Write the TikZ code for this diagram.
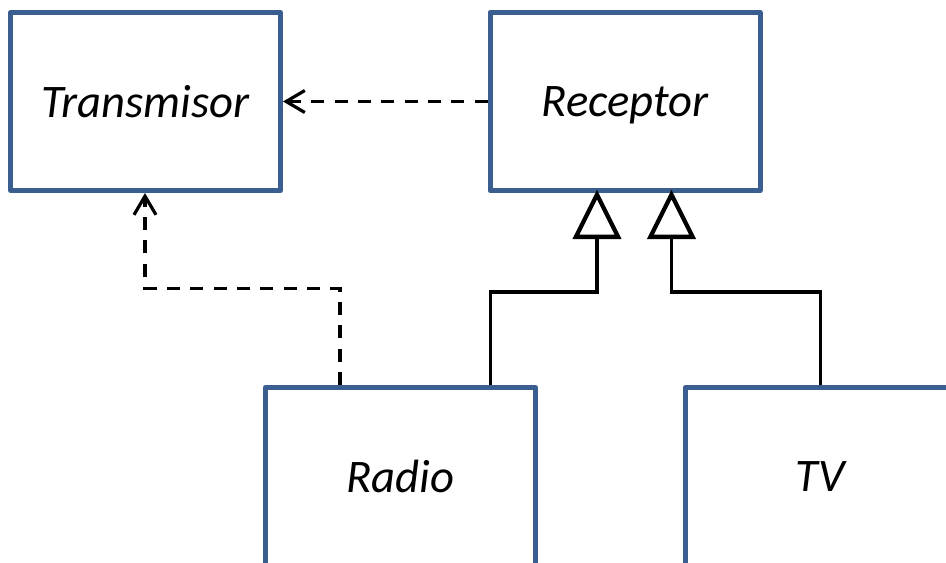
\documentclass[tikz,border=0pt]{standalone}
\usepackage{fontspec}
\setmainfont{Carlito}
\usetikzlibrary{arrows.meta}
\definecolor{boxblue}{HTML}{3B5E91}
\begin{document}
\begin{tikzpicture}[x=0.75pt,y=-0.75pt,
  cls/.style={draw=boxblue, fill=white, line width=3.75pt, line join=round,
    minimum width=202.5pt, minimum height=133.5pt, inner sep=0pt, text depth=0pt,
    font=\fontsize{35}{42}\selectfont\itshape},
  dep/.style={line width=2.4pt, dash pattern=on 9.75pt off 7.75pt,
    -{Straight Barb[length=14pt,width=16.5pt]}},
  gen/.style={line width=2.4pt, shorten >=-2.5pt,
    -{Triangle[open,length=37pt,width=36pt,line width=3.2pt]}}]
\useasboundingbox (0,0) rectangle (946,563);
\clip (0,0) rectangle (946,563);
\node[cls] (Transmisor) at (145.5,101.5) {Transmisor};
\node[cls] (Receptor) at (625,101.5) {Receptor};
\node[cls] (Radio) at (400.25,476.5) {Radio};
\node[cls] (TV) at (820.5,476.5) {TV};
\coordinate (g1a) at (490.5,292);
\coordinate (g1b) at (597,292);
\coordinate (g2a) at (820.5,292);
\coordinate (g2b) at (671.5,292);
\coordinate (d1) at (145,288.5);
\coordinate (d2) at (340,288.5);
\draw[dep] (Receptor.west) -- (Transmisor.east);
\draw[dep] (d2 |- Radio.north) -- (d2) -- (d1) -- (d1 |- Transmisor.south);
\draw[gen] (g1a |- Radio.north) -- (g1a) -- (g1b) -- (g1b |- Receptor.south);
\draw[gen] (g2a |- TV.north) -- (g2a) -- (g2b) -- (g2b |- Receptor.south);
\end{tikzpicture}
\end{document}
